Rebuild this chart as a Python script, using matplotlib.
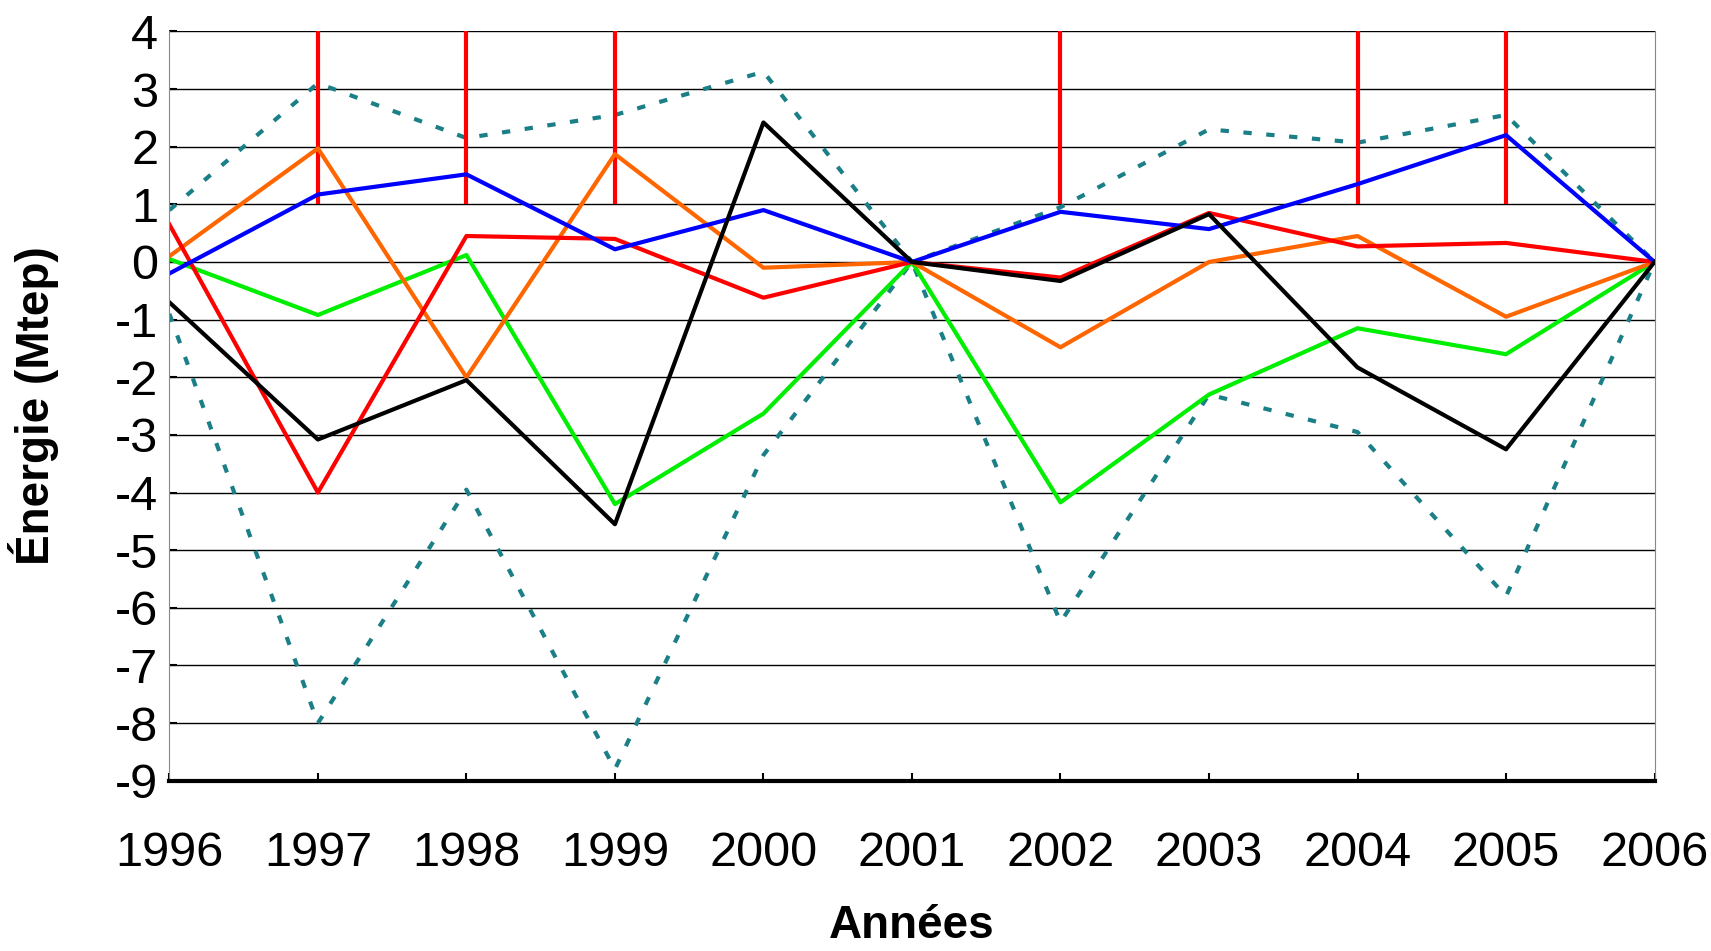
import matplotlib.pyplot as plt

plt.rcParams['font.family'] = ['Liberation Sans', 'DejaVu Sans']
plt.rcParams['axes.unicode_minus'] = False

years = list(range(1996, 2007))
blue = [-0.2, 1.17, 1.52, 0.22, 0.9, 0, 0.87, 0.57, 1.35, 2.2, 0]
orange = [0.1, 1.97, -2.0, 1.87, -0.1, 0, -1.48, 0.0, 0.45, -0.95, 0]
red = [0.65, -4.0, 0.45, 0.4, -0.62, 0, -0.27, 0.85, 0.27, 0.33, 0]
green = [0.05, -0.92, 0.12, -4.2, -2.63, 0, -4.17, -2.3, -1.15, -1.6, 0]
black = [-0.7, -3.08, -2.05, -4.55, 2.42, 0, -0.33, 0.83, -1.83, -3.25, 0]
upper = [0.9, 3.1, 2.15, 2.55, 3.3, 0, 0.95, 2.3, 2.07, 2.55, 0]
lower = [-0.9, -8.0, -3.95, -8.8, -3.35, 0, -6.25, -2.3, -2.95, -5.8, 0]
bar_years = [1997, 1998, 1999, 2002, 2004, 2005]
bar_low = 1
bar_high = 4

fig = plt.figure(figsize=(17.11, 9.51), dpi=100)
ax = fig.add_axes([0.099, 0.179, 0.868, 0.788])

teal = '#1a7f86'
ax.plot(years, upper, color=teal, lw=3, ls=(0, (2, 3.5)))
ax.plot(years, lower, color=teal, lw=3, ls=(0, (2, 3.5)))
ax.vlines(bar_years, bar_low, bar_high, color='#ff0000', lw=3)
ax.plot(years, green, color='#00ee00', lw=3)
ax.plot(years, orange, color='#ff6600', lw=3)
ax.plot(years, red, color='#ff0000', lw=3)
ax.plot(years, blue, color='#0000ff', lw=3)
ax.plot(years, black, color='black', lw=3)

ax.set_xlim(1996, 2006)
ax.set_ylim(-9, 4)
ax.set_yticks(range(-9, 5))
ax.set_xticks(years)
ax.grid(axis='y', color='black', lw=1)
ax.set_axisbelow(True)
for s in ['left', 'right', 'top']:
    ax.spines[s].set_color('#888888')
ax.spines['top'].set_visible(False)
ax.spines['bottom'].set_linewidth(3)
ax.tick_params(axis='both', labelsize=35, length=6, width=1.5, direction='in')
ax.tick_params(axis='x', pad=36)
ax.tick_params(axis='y', pad=8)
ax.set_xlabel('Années', fontsize=33, fontweight='bold', labelpad=20)
ax.set_ylabel('Énergie (Mtep)', fontsize=33, fontweight='bold', labelpad=40)

fig.savefig('out.png', dpi=100)
